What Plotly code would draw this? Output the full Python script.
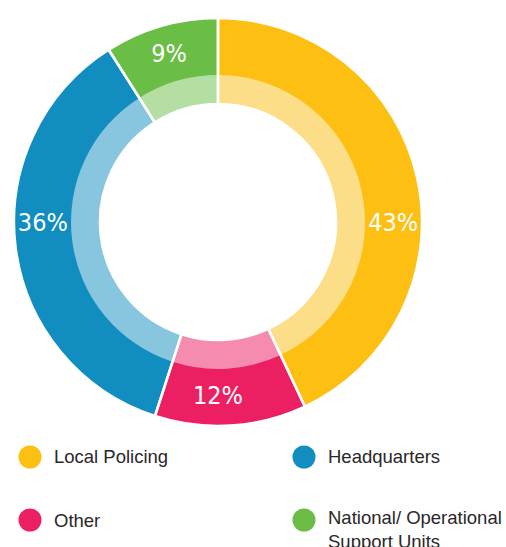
import plotly.graph_objects as go

categories = ["Local Policing", "Other", "Headquarters", "National/ Operational<br>Support Units"]
values = [43, 12, 36, 9]
outer_colors = ["#FCBF12", "#EC1F63", "#118DC0", "#6ABD45"]
inner_colors = ["#FDDE88", "#F58BAE", "#88C6E0", "#B4DEA2"]
text_labels = ["43%", "12%", "36%", "9%"]

legend_order = [0, 2, 1, 3]

W, H = 506, 547
cx, cy = 218, 222
R_out, R_mid, R_in = 204, 147, 118


def dom(r):
    return dict(x=[(cx - r) / W, (cx + r) / W], y=[1 - (cy + r) / H, 1 - (cy - r) / H])


common = dict(labels=categories, values=values, sort=False, direction="clockwise",
              rotation=0, showlegend=False)
clear = ["rgba(0,0,0,0)"] * len(values)

fig = go.Figure()
# dark ring (full width)
fig.add_trace(go.Pie(**common, hole=R_in / R_out, domain=dom(R_out),
                     marker=dict(colors=outer_colors, line=dict(width=0)),
                     textinfo="none", hoverinfo="label+percent"))
# light inner band
fig.add_trace(go.Pie(**common, hole=R_in / R_mid, domain=dom(R_mid),
                     marker=dict(colors=inner_colors, line=dict(width=0)),
                     textinfo="none", hoverinfo="skip"))
# white radial separators
fig.add_trace(go.Pie(**common, hole=R_in / R_out, domain=dom(R_out),
                     marker=dict(colors=clear, line=dict(color="white", width=2.5)),
                     textinfo="none", hoverinfo="label+percent"))
# percentage labels in outer band
fig.add_trace(go.Pie(**common, hole=R_mid / R_out, domain=dom(R_out),
                     marker=dict(colors=clear, line=dict(color="rgba(0,0,0,0)", width=0)),
                     text=text_labels, textinfo="text", textposition="inside",
                     insidetextorientation="horizontal", hoverinfo="label+percent",
                     textfont=dict(family="DejaVu Sans Condensed", size=25, color="white")))

# custom legend with round markers
legend_pos = [(30, 457), (304, 457), (30, 520), (304, 520)]
shapes = []
annotations = []
for slot, idx in enumerate(legend_order):
    x, y = legend_pos[slot]
    shapes.append(dict(
        type="circle", xref="paper", yref="paper",
        xsizemode="pixel", ysizemode="pixel",
        xanchor=x / W, yanchor=1 - y / H,
        x0=-11.5, x1=11.5, y0=-11.5, y1=11.5,
        fillcolor=outer_colors[idx], line=dict(width=0),
    ))
    if idx == 3:
        ty, yanchor = 505, "top"
    else:
        ty, yanchor = y, "middle"
    annotations.append(dict(
        x=(x + 22) / W, y=1 - ty / H, xref="paper", yref="paper",
        xanchor="left", yanchor=yanchor, align="left",
        text=categories[idx], showarrow=False,
        font=dict(family="Liberation Sans", size=18.5, color="#2A2728"),
    ))

fig.update_layout(
    width=W, height=H, margin=dict(l=0, r=0, t=0, b=0),
    paper_bgcolor="white", plot_bgcolor="white",
    shapes=shapes, annotations=annotations,
)
fig.write_html("out.html", config={"displayModeBar": False},
               post_script="document.body.style.margin='0';")
